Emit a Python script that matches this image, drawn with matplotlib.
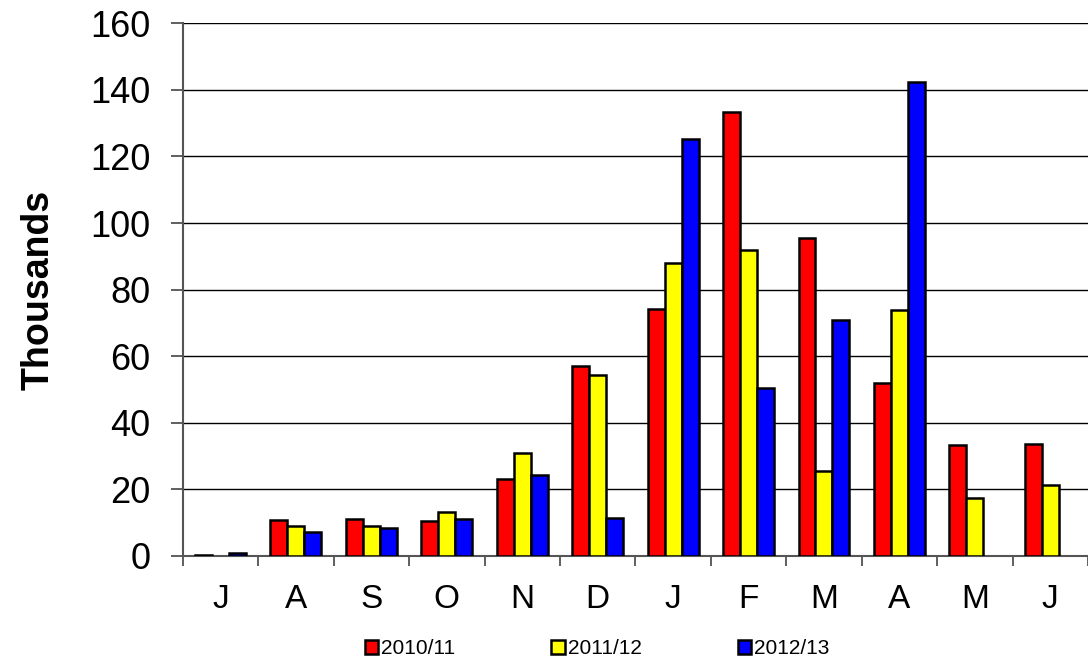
import matplotlib
matplotlib.use('Agg')
import matplotlib.pyplot as plt
import numpy as np

plt.rc('font', family=['Liberation Sans', 'DejaVu Sans'])

months = ['J', 'A', 'S', 'O', 'N', 'D', 'J', 'F', 'M', 'A', 'M', 'J']
s2010 = [0.3, 10.8, 11.0, 10.5, 23.0, 57.0, 74.3, 133.3, 95.5, 52.0, 33.2, 33.7]
s2011 = [np.nan, 9.0, 9.0, 13.3, 31.0, 54.5, 88.0, 92.0, 25.5, 74.0, 17.5, 21.2]
s2012 = [0.8, 7.3, 8.3, 11.2, 24.3, 11.3, 125.3, 50.3, 71.0, 142.3, np.nan, np.nan]
series = [('2010/11', s2010, '#ff0000'),
          ('2011/12', s2011, '#ffff00'),
          ('2012/13', s2012, '#0000ff')]

fig = plt.figure(figsize=(10.88, 6.65), dpi=100)
ax = fig.add_axes([0.168, 0.164, 0.832, 0.801])

x = np.arange(len(months))
w = 0.225
for i, (name, vals, col) in enumerate(series):
    ax.bar(x + (i - 1) * w, vals, w, color=col, edgecolor='black', linewidth=1.8,
           label=name, zorder=3)

ax.set_xlim(-0.5, len(months) - 0.5)
ax.set_ylim(0, 160)
ax.set_yticks(range(0, 161, 20))
ax.yaxis.grid(True, color='black', linewidth=1, zorder=0)
ax.set_xticks(x)
ax.set_xticklabels(months)
ax.set_xticks(np.arange(-0.5, len(months), 1), minor=True)
ax.tick_params(axis='x', which='major', length=0, pad=20, labelsize=24)
ax.tick_params(axis='x', which='minor', length=7, width=1.2, color='#444444')
ax.tick_params(axis='y', length=8.5, width=1.2, color='#444444', labelsize=26, pad=15)
for s in ['top', 'right']:
    ax.spines[s].set_visible(False)
ax.spines['left'].set_color('#555555')
ax.spines['left'].set_linewidth(1.5)
ax.spines['bottom'].set_color('#555555')
ax.spines['bottom'].set_linewidth(1.5)
ax.set_ylabel('Thousands', fontsize=27, fontweight='bold', labelpad=24)

fig.legend(loc='center', bbox_to_anchor=(0.549, 0.025), ncol=3, frameon=False,
           fontsize=15, handlelength=0.65, handleheight=0.65, handletextpad=0.15,
           columnspacing=4.6)

fig.savefig('out.png', dpi=100)
